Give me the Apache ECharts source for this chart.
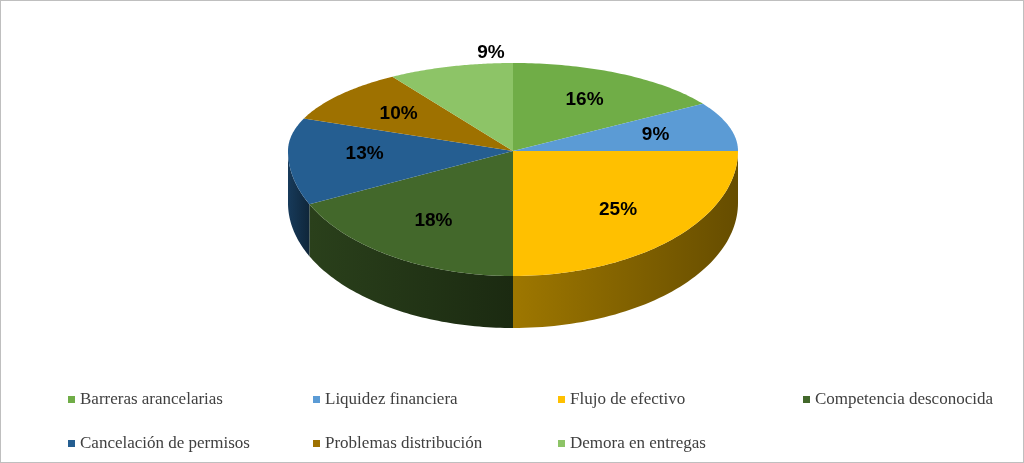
<!DOCTYPE html>
<html lang="es">
<head>
<meta charset="UTF-8">
<title>Pie 3D</title>
<script src="https://cdn.jsdelivr.net/npm/echarts@6/dist/echarts.min.js"></script>
<style>
  html, body { margin: 0; padding: 0; background: #fff; }
  #chart { width: 1022px; height: 461px; border: 1px solid #bfbfbf; }
</style>
</head>
<body>
<div id="chart"></div>
<script>
var categories = ['Barreras arancelarias', 'Liquidez financiera', 'Flujo de efectivo', 'Competencia desconocida',
                  'Cancelación de permisos', 'Problemas distribución', 'Demora en entregas'];
var values = [16, 9, 25, 18, 13, 10, 9];
var colors = ['#70AD47', '#5B9BD5', '#FFC000', '#43682B', '#255E91', '#9E7100', '#8DC467'];

var chart = echarts.init(document.getElementById('chart'));
var total = values.reduce(function (a, b) { return a + b; }, 0);
var starts = [], acc = 0;
values.forEach(function (v) { starts.push(acc); acc += v; });

// ellipse geometry (back half flatter than front for a bit of perspective)
var cx = 512, cy = 150, rx = 225, ryTop = 88, ryBot = 125, depth = 52;
function pt(t, r, dy) {
  var c = Math.cos(t);
  return [cx + rx * r * Math.sin(t), cy - (c > 0 ? ryTop : ryBot) * r * c + (dy || 0)];
}
function darken(hex, f) {
  var n = parseInt(hex.slice(1), 16);
  var r = Math.round(((n >> 16) & 255) * f), g = Math.round(((n >> 8) & 255) * f), b = Math.round((n & 255) * f);
  return 'rgb(' + r + ',' + g + ',' + b + ')';
}

function renderSlice(i) {
  var a0 = starts[i] / total * Math.PI * 2, a1 = (starts[i] + values[i]) / total * Math.PI * 2;
  var n = 60, top = [[cx, cy]], k, t;
  for (k = 0; k <= n; k++) top.push(pt(a0 + (a1 - a0) * k / n, 1));
  var children = [];
  var w0 = Math.max(a0, Math.PI / 2), w1 = Math.min(a1, Math.PI * 1.5);
  if (w1 > w0) {
    var up = [], down = [];
    for (k = 0; k <= n; k++) {
      t = w0 + (w1 - w0) * k / n;
      up.push(pt(t, 1)); down.unshift(pt(t, 1, depth));
    }
    children.push({
      type: 'polygon', z2: 1,
      shape: { points: up.concat(down) },
      style: {
        fill: new echarts.graphic.LinearGradient(0, 0, 1, 0, [
          { offset: 0, color: darken(colors[i], 0.62) },
          { offset: 1, color: darken(colors[i], 0.4) }
        ])
      }
    });
  }
  children.push({ type: 'polygon', z2: 2, shape: { points: top }, style: { fill: colors[i] } });
  var mid = (a0 + a1) / 2;
  var lp = i === 6 ? [490, 52] : pt(mid, 0.66);
  children.push({
    type: 'text', z2: 3,
    style: { x: lp[0], y: lp[1], text: values[i] + '%', fill: '#000', align: 'center', verticalAlign: 'middle',
             font: 'bold 19px "Liberation Sans", Arial' }
  });
  return { type: 'group', children: children };
}

var series = categories.map(function (name, i) {
  return {
    type: 'custom', name: name, coordinateSystem: 'none', data: [values[i]],
    itemStyle: { color: colors[i] },
    z: i === 3 || i === 4 ? 1 : 2,
    renderItem: function () { return renderSlice(i); }
  };
});

var legendText = { fontFamily: '"Liberation Serif", "Times New Roman"', fontSize: 17, color: '#404040' };
var legendLeft = [62, 307, 552, 797];
var legends = categories.map(function (name, i) {
  return { data: [name], top: i < 4 ? 385 : 429, left: legendLeft[i % 4], itemWidth: 7, itemHeight: 7,
           icon: 'rect', textStyle: legendText };
});
chart.setOption({ animation: false, legend: legends, series: series });
</script>
</body>
</html>
